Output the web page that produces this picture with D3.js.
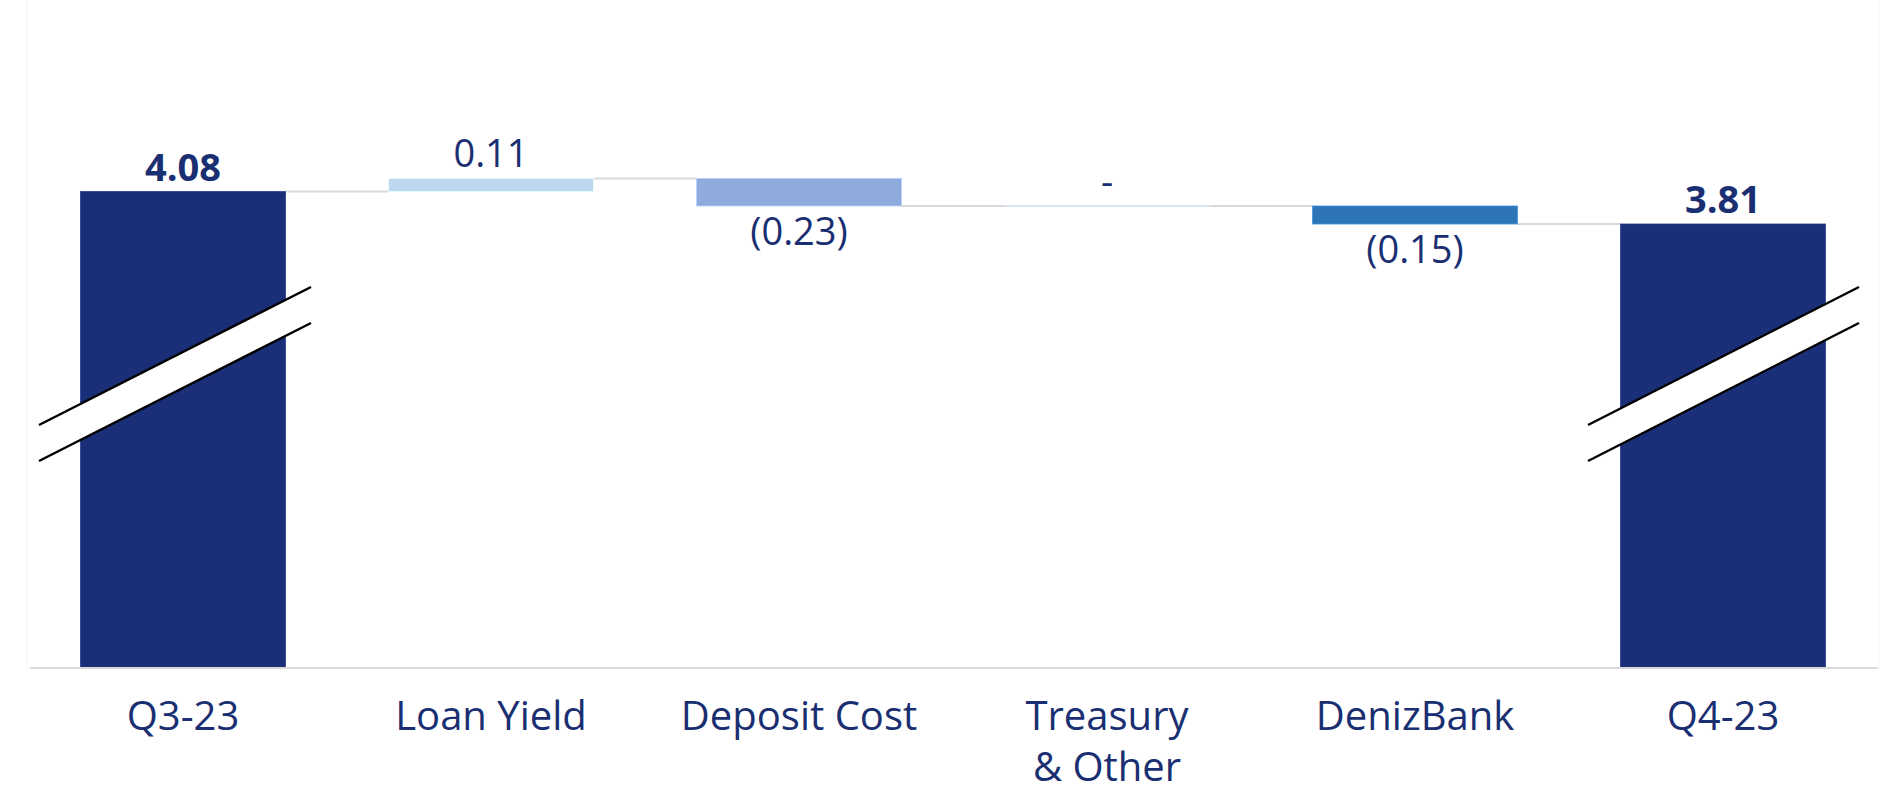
<!DOCTYPE html>
<html>
<head>
<meta charset="utf-8">
<script src="https://cdn.jsdelivr.net/npm/d3@7"></script>
<style>
  body { margin: 0; background: #fff; }
  text { font-family: "Open Sans", "Noto Sans", sans-serif; fill: #1a2f72; }
</style>
</head>
<body>
<script>
// waterfall: NIM bridge Q3-23 -> Q4-23

var categories = ["Q3-23", "Loan Yield", "Deposit Cost", "Treasury\n& Other", "DenizBank", "Q4-23"];
var values = [4.08, 0.11, -0.23, 0, -0.15, 3.81];
var isTotal = [true, false, false, false, false, true];
var valueLabels = ["4.08", "0.11", "(0.23)", "-", "(0.15)", "3.81"];
var barColors = ["#1a2f78", "#bdd7ee", "#8faadc", "#dae3f3", "#2e75b6", "#1a2f78"];

// axis is broken, bars start from this value
var axisFloor = 0.11;

var width = 1884;
var height = 791;

var svg = d3.select("body").append("svg")
    .attr("width", width)
    .attr("height", height);

// running totals
var running = 0;
var bars = categories.map(function(c, i){
  var start, end;
  if (isTotal[i]) { start = axisFloor; end = values[i]; running = values[i]; }
  else { start = running; end = running + values[i]; running = end; }
  return {cat: c, i: i, start: start, end: end, v: values[i], total: isTotal[i]};
});

var x = d3.scaleBand()
    .domain(categories)
    .range([29, 1877])
    .paddingInner(0.335)
    .paddingOuter(0.1675);

var yTop = d3.max(bars, function(d){ return Math.max(d.start, d.end); });
var y = d3.scaleLinear()
    .domain([axisFloor, yTop])
    .range([668, 178.4]);

// faint plot frame sides
svg.append("line").attr("x1", 27).attr("x2", 27).attr("y1", 0).attr("y2", 668)
    .attr("stroke", "#f4f4f4").attr("stroke-width", 1);
svg.append("line").attr("x1", 1879).attr("x2", 1879).attr("y1", 0).attr("y2", 668)
    .attr("stroke", "#f4f4f4").attr("stroke-width", 1);

// connectors
svg.selectAll(".conn")
    .data(bars.slice(0, -1))
  .enter().append("line")
    .attr("class", "conn")
    .attr("x1", function(d){ return x(d.cat) + x.bandwidth(); })
    .attr("x2", function(d){ return x(categories[d.i + 1]); })
    .attr("y1", function(d){ return y(d.end); })
    .attr("y2", function(d){ return y(d.end); })
    .attr("stroke", "#d9d9d9")
    .attr("stroke-width", 2);

// bars (non-zero)
svg.selectAll(".bar")
    .data(bars.filter(function(d){ return d.v !== 0; }))
  .enter().append("rect")
    .attr("class", "bar")
    .attr("x", function(d){ return x(d.cat); })
    .attr("width", x.bandwidth())
    .attr("y", function(d){ return y(Math.max(d.start, d.end)); })
    .attr("height", function(d){ return Math.abs(y(d.start) - y(d.end)); })
    .attr("fill", function(d){ return barColors[d.i]; })
    .attr("stroke", function(d){ return d3.color(barColors[d.i]).brighter(0.6); })
    .attr("stroke-width", 0.8);

// zero bars show as a thin line
svg.selectAll(".zbar")
    .data(bars.filter(function(d){ return d.v === 0; }))
  .enter().append("line")
    .attr("class", "zbar")
    .attr("x1", function(d){ return x(d.cat); })
    .attr("x2", function(d){ return x(d.cat) + x.bandwidth(); })
    .attr("y1", function(d){ return y(d.end); })
    .attr("y2", function(d){ return y(d.end); })
    .attr("stroke", function(d){ return barColors[d.i]; })
    .attr("stroke-width", 2);

// axis
var axis = svg.append("g")
    .attr("transform", "translate(0,668)")
    .call(d3.axisBottom(x).tickSize(0).tickPadding(0));
axis.select(".domain").remove();
axis.append("line")
    .attr("x1", 30).attr("x2", 1878)
    .attr("stroke", "#d9d9d9").attr("stroke-width", 2);

axis.selectAll(".tick text").each(function(d){
  var t = d3.select(this);
  var lines = d.split("\n");
  t.text(null)
    .attr("y", 0)
    .attr("dy", null)
    .style("font-size", "40px")
    .style("font-family", "'Open Sans', sans-serif")
    .attr("fill", "#1a2f72");
  lines.forEach(function(l, k){
    t.append("tspan")
      .attr("x", 0)
      .attr("y", 62 + k * 51)
      .text(l);
  });
});

// value labels
svg.selectAll(".vlabel")
    .data(bars)
  .enter().append("text")
    .attr("class", "vlabel")
    .attr("text-anchor", "middle")
    .attr("x", function(d){ return x(d.cat) + x.bandwidth() / 2; })
    .attr("y", function(d){
      if (d.v < 0) return y(d.end) + 39;
      return y(Math.max(d.start, d.end)) - 11;
    })
    .style("font-size", "38px")
    .style("font-weight", function(d){ return d.total ? "bold" : "normal"; })
    .text(function(d){ return valueLabels[d.i]; });

// axis break marks on the total bars
var brk = svg.selectAll(".brk")
    .data(bars.filter(function(d){ return d.total; }))
  .enter().append("g")
    .attr("class", "brk")
    .attr("transform", function(d){ return "translate(" + (x(d.cat) + x.bandwidth() / 2) + ",0)"; });

function bx0(d){ return d.i === 0 ? -144 : -135; }
function bx1(d){ return d.i === 0 ? 128 : 136; }

brk.append("polygon")
    .attr("points", function(d){
      return [bx0(d) + ",425", bx1(d) + ",287", bx1(d) + ",323", bx0(d) + ",461"].join(" ");
    })
    .attr("fill", "#fff");
brk.append("line")
    .attr("x1", bx0).attr("y1", 425).attr("x2", bx1).attr("y2", 287)
    .attr("stroke", "#000").attr("stroke-width", 2.4);
brk.append("line")
    .attr("x1", bx0).attr("y1", 461).attr("x2", bx1).attr("y2", 323)
    .attr("stroke", "#000").attr("stroke-width", 2.4);
</script>
</body>
</html>
